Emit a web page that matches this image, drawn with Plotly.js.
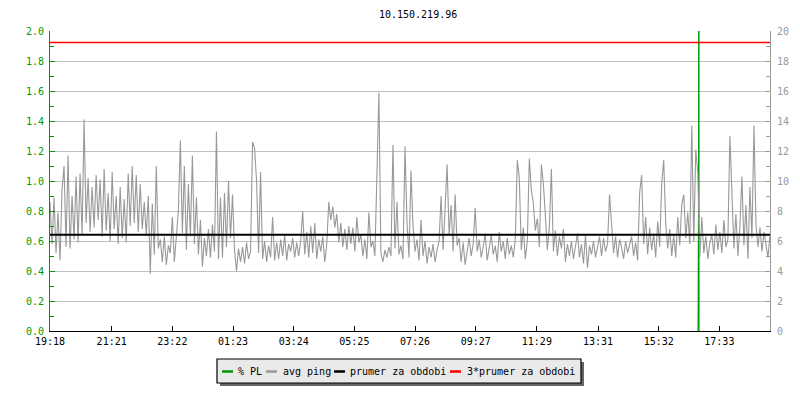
<!DOCTYPE html>
<html>
<head>
<meta charset="utf-8">
<script src="https://cdn.plot.ly/plotly-3.0.1.min.js"></script>
<style>
html,body{margin:0;padding:0;background:#fff;}
#chart{width:800px;height:400px;}
</style>
</head>
<body>
<div id="chart"></div>
<script>
// ---- data ----
const chartTitle = "10.150.219.96";
const tickLabels = ["19:18","21:21","23:22","01:23","03:24","05:25","07:26","09:27","11:29","13:31","15:32","17:33"];
const rangeMinutes = 1436;       // span of the time axis (minutes from 19:18)
const sampleStep = 4;            // minutes between avg ping samples

// avg ping in ms (right axis)
const avgPing = [
 8.6,5.8,8.9,5.2,7.9, 4.7,9.4,11.0,5.6,11.7, 5.5,9.0,6.1,10.3,5.9, 10.5,6.4,14.1,7.2,10.2,
 6.6,9.6,6.9,10.4,7.4, 10.1,6.3,10.8,6.7,9.2, 6.0,10.6,6.8,9.0,5.8, 9.6,6.2,8.8,5.9,10.5,
 7.0,11.0,7.2,10.4,6.6, 9.8,6.8,8.6,6.4,9.0, 3.8,8.5,5.1,11.0,5.5, 6.1,4.6,6.3,4.4,5.7,
 5.2,7.6,4.6,6.2,8.0, 12.7,6.5,11.0,5.4,9.8, 6.3,11.7,5.8,8.9,5.1, 7.4,4.3,6.2,5.0,6.8,
 4.9,7.1,5.3,13.3,4.8, 8.9,4.9,9.2,5.6,10.0, 6.2,9.1,5.4,4.0,5.5, 4.6,5.6,4.5,5.9,4.8,
 5.3,12.6,12.2,10.0,5.2, 10.6,4.8,6.0,4.6,5.7, 4.9,7.6,4.7,5.9,4.8, 6.1,5.0,6.4,4.7,5.8,
 5.3,6.2,4.9,5.9,5.0, 6.0,8.0,5.1,6.6,4.9, 7.0,5.2,7.2,4.8,6.1, 5.3,6.3,4.6,5.8,8.6,
 7.4,8.3,6.9,7.8,5.9, 7.2,5.6,6.8,5.4,7.0, 5.8,6.9,5.3,7.6,5.9, 6.4,5.0,6.1,4.8,7.9,
 5.6,6.0,5.0,10.4,15.9, 5.2,4.6,5.4,4.9,5.6, 5.0,12.4,5.5,8.6,5.1, 5.7,4.8,12.3,7.3,4.9,
 10.7,7.0,5.3,6.1,4.7, 7.4,5.0,6.0,4.5,5.6, 4.9,5.8,4.6,5.4,6.0, 9.0,5.4,8.2,11.1,6.4,
 8.4,5.3,9.1,5.7,6.2, 4.6,5.9,4.4,5.5,6.2, 5.0,5.8,8.2,5.3,6.1, 4.9,5.6,6.5,4.7,5.5,
 6.4,5.1,5.7,4.6,6.6, 5.3,6.0,4.8,6.2,5.1, 5.7,4.9,6.1,11.4,10.2, 5.4,6.9,4.8,6.0,11.5,
 9.4,8.5,6.7,7.5,5.6, 11.1,9.8,7.7,5.4,7.0, 10.8,5.3,6.7,5.0,6.3, 5.5,6.8,4.6,5.8,5.0,
 6.0,4.8,5.6,6.5,4.9, 5.8,4.5,6.4,4.2,5.7, 5.1,6.0,4.9,5.5,6.3, 5.0,6.2,5.3,5.8,9.1,
 7.4,5.2,6.3,4.9,6.1, 5.6,4.8,6.0,5.2,5.7, 6.3,5.0,5.9,4.7,9.2, 10.4,5.8,7.6,5.1,6.9,
 5.4,6.5,4.9,7.3,5.6, 9.8,11.4,7.2,5.5,6.8, 5.0,6.4,4.9,7.6,5.7, 8.4,9.1,6.2,7.9,5.8,
 13.7,6.0,12.1,10.5,4.9, 7.6,5.2,6.3,4.8,5.9, 6.4,5.1,7.1,5.4,6.6, 5.2,7.4,5.6,6.1,13.0,
 8.7,5.5,7.8,5.0,7.0, 10.3,5.7,8.4,4.8,9.6, 6.2,13.7,7.1,5.6,6.9, 5.3,6.6,5.8,4.9,6.4
];

// % PL (left axis): a single spike (clipped at the top)
const plTimes  = [1292, 1293, 1294, 1294, 1294, 1295];
const plValues = [0, 0, 1.0, 2.2, 0, 0];

const meanPing = 6.41;        // "prumer za obdobi" (ms)
const tripleMeanPing = 19.23; // "3*prumer za obdobi" (ms)

const legendNames = ["% PL", "avg ping", "prumer za obdobi", "3*prumer za obdobi"];
const legendColors = ["#009900", "#999999", "#000000", "#ff0000"];

// ---- build ----
const pingTimes = avgPing.map((_, i) => i * sampleStep);
function labelToMinutes(lbl) {
  const [h, m] = lbl.split(":").map(Number);
  let t = h * 60 + m - (19 * 60 + 18);
  if (t < 0) t += 1440;
  return t;
}
const tickVals = tickLabels.map(labelToMinutes);

const FONT = "DejaVu Sans Mono, monospace";

const traces = [
  {x: plTimes, y: plValues, yaxis: "y", type: "scatter", mode: "lines",
   line: {color: legendColors[0], width: 1.5}, name: legendNames[0], hoverinfo: "skip"},
  {x: pingTimes, y: avgPing, yaxis: "y2", type: "scatter", mode: "lines",
   line: {color: legendColors[1], width: 1.1}, name: legendNames[1]},
  {x: [0, rangeMinutes], y: [meanPing, meanPing], yaxis: "y2", type: "scatter", mode: "lines",
   line: {color: legendColors[2], width: 2}, name: legendNames[2]},
  {x: [0, rangeMinutes], y: [tripleMeanPing, tripleMeanPing], yaxis: "y2", type: "scatter", mode: "lines",
   line: {color: legendColors[3], width: 1.5}, name: legendNames[3]}
];

// legend drawn manually (pixel positions converted to paper coords)
const L = 50, T = 31, W = 720, H = 300;
const px = v => (v - L) / W;
const py = v => (T + H - v) / H;
const shapes = [
  {type: "rect", xref: "paper", yref: "paper", x0: px(220), x1: px(584), y0: py(386), y1: py(362),
   fillcolor: "#666666", line: {width: 0}, layer: "above"},
  {type: "rect", xref: "paper", yref: "paper", x0: px(217), x1: px(581), y0: py(383), y1: py(359),
   fillcolor: "#e9e9e9", line: {color: "#000000", width: 1.2}, layer: "above"}
];
const sampleX = [222, 266, 334, 450];
const textX = [236, 281, 348, 465];
const annotations = [];
for (let i = 0; i < legendNames.length; i++) {
  shapes.push({type: "line", xref: "paper", yref: "paper", x0: px(sampleX[i]), x1: px(sampleX[i] + 11),
    y0: py(371.5), y1: py(371.5), line: {color: legendColors[i], width: 2.5}, layer: "above"});
  annotations.push({xref: "paper", yref: "paper", x: px(textX[i]), y: py(371), xanchor: "left", yanchor: "middle",
    text: legendNames[i], showarrow: false, font: {family: FONT, size: 10, color: "#000"}});
}

const layout = {
  width: 800, height: 400,
  margin: {l: 50, r: 30, t: 31, b: 69, pad: 0},
  paper_bgcolor: "#ffffff", plot_bgcolor: "#ffffff",
  showlegend: false,
  font: {family: FONT, size: 10, color: "#000"},
  title: {text: chartTitle, x: 409 / 800, xanchor: "center", xref: "paper", y: 1 - 14 / 400, yanchor: "middle",
          font: {family: FONT, size: 10, color: "#000"}},
  xaxis: {range: [0, rangeMinutes], tickmode: "array", tickvals: tickVals, ticktext: tickLabels,
          ticks: "inside", ticklen: 5, tickcolor: "#000", showline: true, linecolor: "#000", linewidth: 1,
          showgrid: false, zeroline: false, ticklabelstandoff: 1, tickfont: {family: FONT, size: 10, color: "#000"}},
  yaxis: {range: [0, 2], dtick: 0.2, tick0: 0, tickformat: ".1f", ticks: "inside", ticklen: 5, tickcolor: "#009900",
          showline: true, linecolor: "#009900", linewidth: 1, gridcolor: "#c0c0c0", gridwidth: 1, zeroline: false,
          ticklabelstandoff: 3, tickfont: {family: FONT, size: 10, color: "#009900"},
          minor: {dtick: 0.1, ticks: "inside", ticklen: 4, tickcolor: "#009900", showgrid: false}},
  yaxis2: {range: [0, 20], dtick: 2, tick0: 0, overlaying: "y", side: "right", ticks: "inside", ticklen: 5,
           tickcolor: "#999999", showline: true, linecolor: "#999999", linewidth: 1, showgrid: false, zeroline: false,
           ticklabelstandoff: 4, tickfont: {family: FONT, size: 10, color: "#999999"},
           minor: {dtick: 1, ticks: "inside", ticklen: 4, tickcolor: "#999999", showgrid: false}},
  shapes: shapes,
  annotations: annotations
};

Plotly.newPlot("chart", traces, layout, {staticPlot: true, displayModeBar: false});
</script>
</body>
</html>
